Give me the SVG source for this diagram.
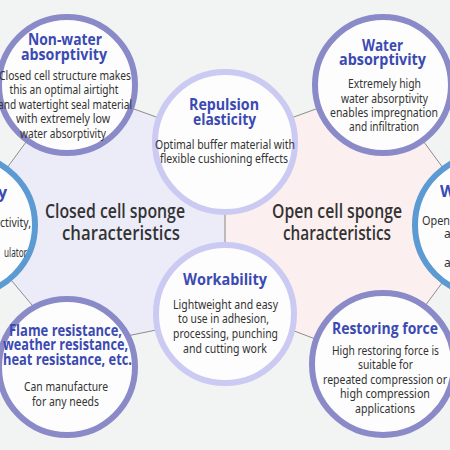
<svg xmlns="http://www.w3.org/2000/svg" width="450" height="450" viewBox="0 0 450 450">
<style>
.ring{fill:#fdfdfd;stroke-width:6}
.dark{stroke:#8b8ac8}
.light{stroke:#cacaf3}
.blue{stroke:#5b9ad2}
.t{font-family:"Open Sans","Noto Sans",sans-serif;font-weight:700;font-size:16px;fill:#3b4ab2;text-anchor:middle}
.b{font-family:"Noto Sans","Open Sans",sans-serif;font-size:12px;fill:#333;text-anchor:middle}
.h{font-family:"Open Sans","Noto Sans",sans-serif;font-weight:600;font-size:19px;fill:#333;text-anchor:middle}
.ln{stroke:#8c8c8c;stroke-width:1;fill:none}
</style>
<rect x="0" y="0" width="450" height="450" fill="#f2f3f3"/>
<polygon points="225,142 68,85 -35,225 68,348 225,316" fill="#ececf9"/>
<polygon points="225,142 382,85 485,225 382,364 225,305" fill="#fcefef"/>
<g id="connectors">
<polyline class="ln" points="225,142 68,85 -35,225 68,348 225,316"/>
<polyline class="ln" points="225,142 382,85 485,225 382,364 225,305"/>
<line x1="225" y1="142" x2="225" y2="314" stroke="#aaa" stroke-width="1.5"/>
</g>
<g id="label-closed">
<text class="h" x="115" y="218" textLength="140" lengthAdjust="spacingAndGlyphs">Closed cell sponge</text>
<text class="h" x="121" y="240" textLength="118" lengthAdjust="spacingAndGlyphs">characteristics</text>
</g>
<g id="label-open">
<text class="h" x="337" y="218" textLength="130" lengthAdjust="spacingAndGlyphs">Open cell sponge</text>
<text class="h" x="337" y="240" textLength="108" lengthAdjust="spacingAndGlyphs">characteristics</text>
</g>
<g id="non-water">
<circle class="ring dark" cx="67" cy="85" r="68"/>
<text class="t" x="65" y="45" textLength="74" lengthAdjust="spacingAndGlyphs">Non-water</text>
<text class="t" x="64" y="60" textLength="86" lengthAdjust="spacingAndGlyphs">absorptivity</text>
<text class="b" x="65" y="80" textLength="132" lengthAdjust="spacingAndGlyphs">Closed cell structure makes</text>
<text class="b" x="64" y="94" textLength="109" lengthAdjust="spacingAndGlyphs">this an optimal airtight</text>
<text class="b" x="65" y="109" textLength="134" lengthAdjust="spacingAndGlyphs">and watertight seal material</text>
<text class="b" x="63" y="123" textLength="94" lengthAdjust="spacingAndGlyphs">with extremely low</text>
<text class="b" x="63" y="138" textLength="86" lengthAdjust="spacingAndGlyphs">water absorptivity</text>
</g>
<g id="repulsion">
<circle class="ring light" cx="225" cy="142" r="70"/>
<text class="t" x="224" y="110" textLength="70" lengthAdjust="spacingAndGlyphs">Repulsion</text>
<text class="t" x="224.5" y="125" textLength="63" lengthAdjust="spacingAndGlyphs">elasticity</text>
<text class="b" x="225" y="149" textLength="140" lengthAdjust="spacingAndGlyphs">Optimal buffer material with</text>
<text class="b" x="224" y="163" textLength="128" lengthAdjust="spacingAndGlyphs">flexible cushioning effects</text>
</g>
<g id="water">
<circle class="ring dark" cx="383" cy="85" r="68"/>
<text class="t" x="382.5" y="51" textLength="41" lengthAdjust="spacingAndGlyphs">Water</text>
<text class="t" x="382.5" y="65" textLength="87" lengthAdjust="spacingAndGlyphs">absorptivity</text>
<text class="b" x="384.5" y="88" textLength="73" lengthAdjust="spacingAndGlyphs">Extremely high</text>
<text class="b" x="384.5" y="103" textLength="87" lengthAdjust="spacingAndGlyphs">water absorptivity</text>
<text class="b" x="384" y="117" textLength="108" lengthAdjust="spacingAndGlyphs">enables impregnation</text>
<text class="b" x="384" y="131" textLength="70" lengthAdjust="spacingAndGlyphs">and infiltration</text>
</g>
<g id="left-partial">
<circle class="ring blue" cx="-35" cy="225" r="70"/>
<text class="t" x="7" y="198" style="text-anchor:end">y</text>
<text class="b" x="31" y="227" style="text-anchor:end" textLength="31" lengthAdjust="spacingAndGlyphs">ctivity,</text>
<text class="b" x="27" y="257" style="text-anchor:end" textLength="23" lengthAdjust="spacingAndGlyphs">ulator</text>
</g>
<g id="right-partial">
<circle class="ring blue" cx="485" cy="225" r="70"/>
<text class="t" x="440" y="197" style="text-anchor:start">W</text>
<text class="b" x="422" y="225" style="text-anchor:start" textLength="28" lengthAdjust="spacingAndGlyphs">Open</text>
<text class="b" x="444" y="238" style="text-anchor:start">a</text>
<text class="b" x="444" y="267" style="text-anchor:start">a</text>
</g>
<g id="flame">
<circle class="ring dark" cx="67" cy="367" r="68"/>
<text class="t" x="65.5" y="336" textLength="113" lengthAdjust="spacingAndGlyphs">Flame resistance,</text>
<text class="t" x="65.5" y="350" textLength="125" lengthAdjust="spacingAndGlyphs">weather resistance,</text>
<text class="t" x="67.5" y="365" textLength="129" lengthAdjust="spacingAndGlyphs">heat resistance, etc.</text>
<text class="b" x="66" y="391" textLength="84" lengthAdjust="spacingAndGlyphs">Can manufacture</text>
<text class="b" x="65.5" y="406" textLength="67" lengthAdjust="spacingAndGlyphs">for any needs</text>
</g>
<g id="workability">
<circle class="ring light" cx="225" cy="314" r="69"/>
<text class="t" x="225" y="285" textLength="84" lengthAdjust="spacingAndGlyphs">Workability</text>
<text class="b" x="225.5" y="309" textLength="105" lengthAdjust="spacingAndGlyphs">Lightweight and easy</text>
<text class="b" x="223.5" y="323" textLength="91" lengthAdjust="spacingAndGlyphs">to use in adhesion,</text>
<text class="b" x="225.5" y="338" textLength="105" lengthAdjust="spacingAndGlyphs">processing, punching</text>
<text class="b" x="225" y="353" textLength="84" lengthAdjust="spacingAndGlyphs">and cutting work</text>
</g>
<g id="restoring">
<circle class="ring dark" cx="383" cy="364" r="71"/>
<text class="t" x="385" y="334" textLength="106" lengthAdjust="spacingAndGlyphs">Restoring force</text>
<text class="b" x="385.5" y="355" textLength="107" lengthAdjust="spacingAndGlyphs">High restoring force is</text>
<text class="b" x="385.5" y="369" textLength="55" lengthAdjust="spacingAndGlyphs">suitable for</text>
<text class="b" x="385" y="384" textLength="124" lengthAdjust="spacingAndGlyphs">repeated compression or</text>
<text class="b" x="385" y="398" textLength="90" lengthAdjust="spacingAndGlyphs">high compression</text>
<text class="b" x="385" y="413" textLength="60" lengthAdjust="spacingAndGlyphs">applications</text>
</g>
</svg>
